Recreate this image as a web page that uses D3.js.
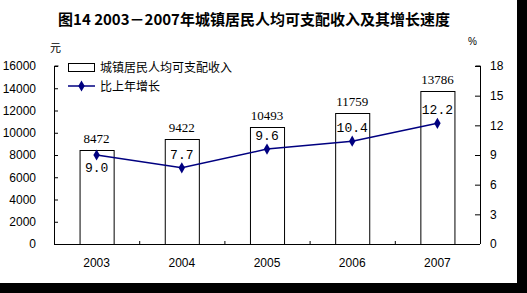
<!DOCTYPE html>
<html>
<head>
<meta charset="utf-8">
<script src="https://cdn.jsdelivr.net/npm/d3@7"></script>
<style>
  body { margin: 0; background: #000; }
  svg { display: block; }
</style>
</head>
<body>
<svg id="chart" width="527" height="293"></svg>
<script>
// data
const years = ["2003", "2004", "2005", "2006", "2007"];
const income = [8472, 9422, 10493, 11759, 13786];
const growth = [9.0, 7.7, 9.6, 10.4, 12.2];
const leftTicks = [0, 2000, 4000, 6000, 8000, 10000, 12000, 14000, 16000];
const rightTicks = [0, 3, 6, 9, 12, 15, 18];

const svg = d3.select("#chart");
const navy = "#000080";

// white paper area
svg.append("rect").attr("x", 0).attr("y", 0).attr("width", 517).attr("height", 283).attr("fill", "#fff");

const plotL = 54, plotR = 480, plotT = 66, plotB = 244;

const x = d3.scaleBand().domain(years).range([plotL, plotR]).paddingInner(0.6).paddingOuter(0.3);
const xc = d3.scaleBand().domain(years).range([plotL, plotR]);
const yL = d3.scaleLinear().domain([0, 16000]).range([plotB, plotT]);
const yR = d3.scaleLinear().domain([0, 18]).range([plotB, plotT]);

// title
svg.append("text")
    .attr("x", 254).attr("y", 25)
    .attr("text-anchor", "middle")
    .attr("font-family", "Noto Sans CJK SC")
    .attr("font-weight", "bold")
    .attr("font-size", 15)
    .text("图14  2003－2007年城镇居民人均可支配收入及其增长速度");

svg.append("text").attr("x", 50).attr("y", 52)
    .attr("font-family", "Noto Sans CJK SC").attr("font-size", 11).text("元");
svg.append("text").attr("x", 468).attr("y", 45)
    .attr("font-family", "Liberation Sans").attr("font-size", 10).text("%");

// bars
svg.append("g").selectAll("rect")
    .data(income)
    .join("rect")
    .attr("x", (d, i) => x(years[i]) + 0.5)
    .attr("y", d => Math.round(yL(d)) + 0.5)
    .attr("width", x.bandwidth())
    .attr("height", d => plotB - Math.round(yL(d)))
    .attr("fill", "#fff")
    .attr("stroke", "#000")
    .attr("stroke-width", 1);

// bar labels
svg.append("g").selectAll("text")
    .data(income)
    .join("text")
    .attr("x", (d, i) => x(years[i]) + x.bandwidth() / 2)
    .attr("y", d => yL(d) - 7)
    .attr("text-anchor", "middle")
    .attr("font-family", "Liberation Serif")
    .attr("font-size", 13)
    .text(d => d);

// axes
const axisFont = g => g.selectAll("text")
    .attr("font-family", "Liberation Sans").attr("font-size", 12).attr("fill", "#000");

svg.append("g")
    .attr("transform", `translate(${plotL},0)`)
    .call(d3.axisRight(yL).tickValues(leftTicks).tickSize(4).tickFormat(d3.format("d")))
    .call(g => g.select(".domain").attr("d", `M4.5,${plotT}H0.5V${plotB}`))
    .call(g => g.selectAll(".tick text").attr("x", -18).attr("text-anchor", "end"))
    .call(axisFont);

svg.append("g")
    .attr("transform", `translate(${plotR},0)`)
    .call(d3.axisLeft(yR).tickValues(rightTicks).tickSize(5))
    .call(g => g.select(".domain").attr("d", `M-4.5,${plotT}H0.5V${plotB}`))
    .call(g => g.selectAll(".tick text").attr("x", 10).attr("text-anchor", "start"))
    .call(axisFont);

svg.append("g")
    .attr("transform", `translate(0,${plotB})`)
    .call(d3.axisBottom(xc).tickSize(0))
    .call(g => g.select(".domain").attr("d", `M${plotL},0.5H${plotR}`))
    .call(g => g.selectAll(".tick text").attr("dy", 0).attr("y", 23))
    .call(axisFont);

// category boundary ticks
svg.append("g").selectAll("line")
    .data(years.slice(1))
    .join("line")
    .attr("x1", d => xc(d) + 0.5).attr("x2", d => xc(d) + 0.5)
    .attr("y1", plotB).attr("y2", plotB - 3)
    .attr("stroke", "#000");

// growth line
const cx = (d, i) => xc(years[i]) + xc.bandwidth() / 2;
svg.append("path")
    .datum(growth)
    .attr("fill", "none")
    .attr("stroke", navy)
    .attr("stroke-width", 1.5)
    .attr("d", d3.line().x(cx).y(d => yR(d)));

const diamond = d3.symbol().type(d3.symbolDiamond).size(36);
svg.append("g").selectAll("path")
    .data(growth)
    .join("path")
    .attr("transform", (d, i) => `translate(${cx(d, i)},${yR(d)})`)
    .attr("d", diamond)
    .attr("fill", navy);

// growth labels
svg.append("g").selectAll("text")
    .data(growth)
    .join("text")
    .attr("x", cx)
    .attr("y", (d, i) => i === 0 ? yR(d) + 17 : yR(d) - 9)
    .attr("text-anchor", "middle")
    .attr("font-family", "Liberation Mono")
    .attr("font-size", 13)
    .text(d => d.toFixed(1));

// legend
const lg = svg.append("g");
lg.append("rect").attr("x", 68.5).attr("y", 63.5).attr("width", 26).attr("height", 8)
    .attr("fill", "#fff").attr("stroke", "#000");
lg.append("text").attr("x", 100).attr("y", 72)
    .attr("font-family", "Noto Sans CJK SC").attr("font-size", 12).text("城镇居民人均可支配收入");
lg.append("line").attr("x1", 68).attr("x2", 95).attr("y1", 86).attr("y2", 86)
    .attr("stroke", navy).attr("stroke-width", 1.5);
lg.append("path").attr("transform", "translate(81.5,86)").attr("d", diamond).attr("fill", navy);
lg.append("text").attr("x", 100).attr("y", 91)
    .attr("font-family", "Noto Sans CJK SC").attr("font-size", 12).text("比上年增长");
</script>
</body>
</html>
